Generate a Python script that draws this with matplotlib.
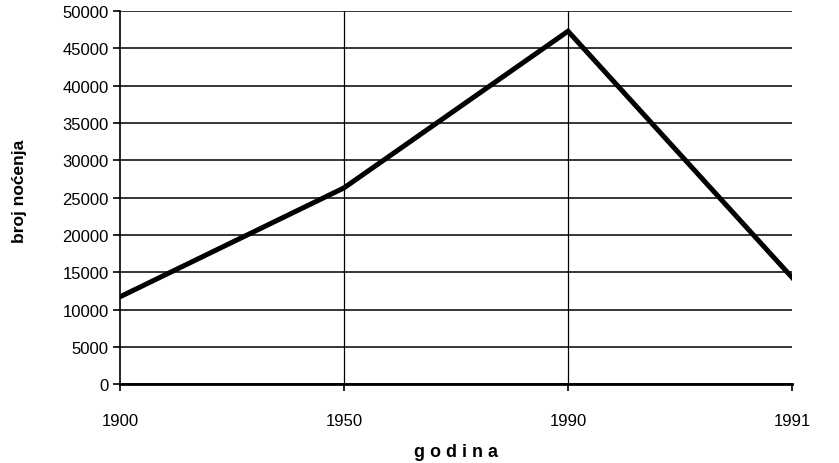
import matplotlib.pyplot as plt
import numpy as np

godine = ['1900', '1950', '1990', '1991']
nocenja = [11700, 26300, 47300, 14300]

plt.rcParams['font.family'] = ['Liberation Sans', 'DejaVu Sans']

fig = plt.figure(figsize=(8.39, 4.64), dpi=100)
ax = fig.add_axes([0.143, 0.170, 0.801, 0.804])

x = np.arange(len(godine))
ax.plot(x, nocenja, color='black', linewidth=3.6, solid_joinstyle='miter', zorder=3)

ax.set_xlim(0, len(godine) - 1)
ax.set_ylim(0, 50000)
ax.set_yticks(np.arange(0, 50001, 5000))
ax.set_xticks(x)
ax.set_xticklabels(godine)

ax.yaxis.grid(True, color='black', linewidth=1.1)
for xi in x[1:-1]:
    ax.axvline(xi, color='black', linewidth=0.9)

for s in ['top', 'right']:
    ax.spines[s].set_visible(False)
ax.spines['left'].set_linewidth(1.2)
ax.spines['bottom'].set_linewidth(2.0)

ax.tick_params(axis='y', length=5, width=1.2, labelsize=12, pad=3)
ax.tick_params(axis='x', length=5, width=1.2, labelsize=12, pad=16)

ax.set_ylabel('broj noćenja', fontsize=12.5, fontweight='bold')
ax.yaxis.set_label_coords(-0.138, 0.52)
ax.set_xlabel('g o d i n a', fontsize=13, fontweight='bold')
ax.xaxis.set_label_coords(0.5, -0.158)

plt.savefig('out.png', dpi=100)
